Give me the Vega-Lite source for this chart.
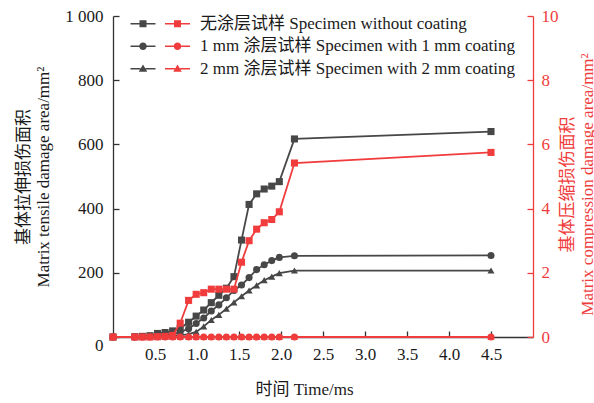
{
  "$schema": "https://vega.github.io/schema/vega-lite/v6.json",
  "width": 420,
  "height": 321,
  "autosize": {"type": "none"},
  "padding": {"left": 113, "top": 16, "right": 61, "bottom": 66},
  "background": "white",
  "config": {
    "font": "Liberation Serif, Noto Sans CJK SC",
    "view": {"stroke": null},
    "axis": {
      "labelFont": "Liberation Serif, Noto Sans CJK SC",
      "titleFont": "Liberation Serif, Noto Sans CJK SC",
      "labelFontSize": 17,
      "titleFontSize": 17,
      "titleFontWeight": "normal",
      "labelColor": "#1a1a1a",
      "titleColor": "#1a1a1a",
      "grid": false,
      "tickSize": -6,
      "tickWidth": 1.3,
      "domainWidth": 1.3,
      "domainColor": "#333333",
      "tickColor": "#333333"
    },
    "legend": {
      "labelFont": "Liberation Serif, Noto Sans CJK SC",
      "labelFontSize": 17,
      "labelColor": "#1a1a1a",
      "labelLimit": 500
    }
  },
  "data": {
    "values": [
      {"t": 0, "s": "A", "ten": 0, "com": 0},
      {"t": 0.26, "s": "A", "ten": 1, "com": 0},
      {"t": 0.35, "s": "A", "ten": 2, "com": 0},
      {"t": 0.44, "s": "A", "ten": 4, "com": 0},
      {"t": 0.53, "s": "A", "ten": 11, "com": 0.01},
      {"t": 0.62, "s": "A", "ten": 14, "com": 0.02},
      {"t": 0.71, "s": "A", "ten": 19, "com": 0.05},
      {"t": 0.80, "s": "A", "ten": 27, "com": 0.43},
      {"t": 0.90, "s": "A", "ten": 46, "com": 1.14},
      {"t": 0.99, "s": "A", "ten": 65, "com": 1.33},
      {"t": 1.08, "s": "A", "ten": 84, "com": 1.38},
      {"t": 1.17, "s": "A", "ten": 107, "com": 1.49},
      {"t": 1.26, "s": "A", "ten": 130, "com": 1.49},
      {"t": 1.35, "s": "A", "ten": 152, "com": 1.49},
      {"t": 1.44, "s": "A", "ten": 188, "com": 1.49},
      {"t": 1.53, "s": "A", "ten": 302, "com": 2.33},
      {"t": 1.62, "s": "A", "ten": 413, "com": 3.0},
      {"t": 1.71, "s": "A", "ten": 446, "com": 3.36},
      {"t": 1.80, "s": "A", "ten": 461, "com": 3.56},
      {"t": 1.89, "s": "A", "ten": 470, "com": 3.66},
      {"t": 1.98, "s": "A", "ten": 484, "com": 3.9},
      {"t": 2.16, "s": "A", "ten": 617, "com": 5.42},
      {"t": 4.5, "s": "A", "ten": 640, "com": 5.75},
      {"t": 0, "s": "B", "ten": 0, "com": 0},
      {"t": 0.26, "s": "B", "ten": 0, "com": 0},
      {"t": 0.35, "s": "B", "ten": 1, "com": 0},
      {"t": 0.44, "s": "B", "ten": 2, "com": 0},
      {"t": 0.53, "s": "B", "ten": 3, "com": 0},
      {"t": 0.62, "s": "B", "ten": 5, "com": 0},
      {"t": 0.71, "s": "B", "ten": 8, "com": 0},
      {"t": 0.80, "s": "B", "ten": 15, "com": 0},
      {"t": 0.90, "s": "B", "ten": 26, "com": 0},
      {"t": 0.99, "s": "B", "ten": 42, "com": 0},
      {"t": 1.08, "s": "B", "ten": 59, "com": 0},
      {"t": 1.17, "s": "B", "ten": 81, "com": 0},
      {"t": 1.26, "s": "B", "ten": 100, "com": 0},
      {"t": 1.35, "s": "B", "ten": 122, "com": 0},
      {"t": 1.44, "s": "B", "ten": 145, "com": 0},
      {"t": 1.53, "s": "B", "ten": 162, "com": 0},
      {"t": 1.62, "s": "B", "ten": 185, "com": 0},
      {"t": 1.71, "s": "B", "ten": 210, "com": 0},
      {"t": 1.80, "s": "B", "ten": 225, "com": 0},
      {"t": 1.89, "s": "B", "ten": 238, "com": 0},
      {"t": 1.98, "s": "B", "ten": 248, "com": 0},
      {"t": 2.16, "s": "B", "ten": 253, "com": 0},
      {"t": 4.5, "s": "B", "ten": 254, "com": 0},
      {"t": 0, "s": "C", "ten": 0, "com": 0},
      {"t": 0.26, "s": "C", "ten": 0, "com": 0},
      {"t": 0.35, "s": "C", "ten": 0, "com": 0},
      {"t": 0.44, "s": "C", "ten": 1, "com": 0},
      {"t": 0.53, "s": "C", "ten": 1, "com": 0},
      {"t": 0.62, "s": "C", "ten": 2, "com": 0},
      {"t": 0.71, "s": "C", "ten": 3, "com": 0},
      {"t": 0.80, "s": "C", "ten": 5, "com": 0},
      {"t": 0.90, "s": "C", "ten": 9, "com": 0},
      {"t": 0.99, "s": "C", "ten": 16, "com": 0},
      {"t": 1.08, "s": "C", "ten": 33, "com": 0},
      {"t": 1.17, "s": "C", "ten": 53, "com": 0},
      {"t": 1.26, "s": "C", "ten": 69, "com": 0},
      {"t": 1.35, "s": "C", "ten": 88, "com": 0},
      {"t": 1.44, "s": "C", "ten": 108, "com": 0},
      {"t": 1.53, "s": "C", "ten": 127, "com": 0},
      {"t": 1.62, "s": "C", "ten": 145, "com": 0},
      {"t": 1.71, "s": "C", "ten": 161, "com": 0},
      {"t": 1.80, "s": "C", "ten": 177, "com": 0},
      {"t": 1.89, "s": "C", "ten": 188, "com": 0},
      {"t": 1.98, "s": "C", "ten": 199, "com": 0},
      {"t": 2.16, "s": "C", "ten": 207, "com": 0},
      {"t": 4.5, "s": "C", "ten": 207, "com": 0}
    ]
  },
  "layer": [
    {
      "layer": [
        {
          "mark": {"type": "line", "color": "#474747", "strokeWidth": 1.8},
          "encoding": {
            "x": {"field": "t", "type": "quantitative", "scale": {"domain": [0, 5], "nice": false},
              "axis": {"values": [0.5, 1, 1.5, 2, 2.5, 3, 3.5, 4, 4.5], "format": ".1f", "labelPadding": 15, "title": "时间 Time/ms", "titleX": 191, "titlePadding": 19}},
            "y": {"field": "ten", "type": "quantitative", "scale": {"domain": [0, 1000], "nice": false}},
            "detail": {"field": "s"}
          }
        },
        {
          "mark": {"type": "point", "filled": true, "opacity": 1, "size": 50, "color": "#474747"},
          "encoding": {
            "x": {"field": "t", "type": "quantitative"},
            "y": {"field": "ten", "type": "quantitative",
              "axis": {"orient": "left", "values": [0, 200, 400, 600, 800, 1000],
                "labelExpr": "datum.value == 1000 ? '1 000' : datum.label",
                "labelBaseline": {"condition": {"test": "datum.value == 0", "value": "top"}, "value": "middle"},
                "labelPadding": 16,
                "title": ["基体拉伸损伤面积", "Matrix tensile damage area/mm²"],
                "titleLineHeight": 20, "titlePadding": 12}},
            "shape": {"field": "s", "type": "nominal",
              "scale": {"domain": ["A", "B", "C"], "range": ["square", "circle", "triangle-up"]},
              "legend": null}
          }
        },
        {
          "mark": {"type": "point", "filled": true, "opacity": 0, "color": "#474747"},
          "encoding": {
            "x": {"field": "t", "type": "quantitative"},
            "y": {"field": "ten", "type": "quantitative"},
            "shape": {"field": "s", "type": "nominal",
              "scale": {"domain": ["A", "B", "C"], "range": [
                "M-1,-0.065H-0.2V0.065H-1ZM0.2,-0.065H1V0.065H0.2ZM-0.28,-0.28H0.28V0.28H-0.28Z",
                "M-1,-0.065H-0.2V0.065H-1ZM0.2,-0.065H1V0.065H0.2ZM-0.3,0A0.3,0.3 0 1,1 0.3,0A0.3,0.3 0 1,1 -0.3,0Z",
                "M-1,-0.065H-0.2V0.065H-1ZM0.2,-0.065H1V0.065H0.2ZM0,-0.34L0.34,0.25L-0.34,0.25Z"]},
              "legend": {
                "orient": "none", "legendX": 17.5, "legendY": -4.8, "title": null, "padding": 0,
                "rowPadding": 1.5, "symbolSize": 625, "symbolOpacity": 1, "symbolFillColor": "#474747", "symbolStrokeWidth": 0,
                "labelOpacity": 0, "labelOffset": 10,
                "labelExpr": "'\u2002'"
              }}
          }
        }
      ],
      "resolve": {"scale": {"shape": "independent"}}
    },
    {
      "layer": [
        {
          "mark": {"type": "line", "color": "#f03c3c", "strokeWidth": 1.8},
          "encoding": {
            "x": {"field": "t", "type": "quantitative"},
            "y": {"field": "com", "type": "quantitative", "scale": {"domain": [0, 10], "nice": false}},
            "detail": {"field": "s"}
          }
        },
        {
          "mark": {"type": "point", "filled": true, "opacity": 1, "size": 50, "color": "#f03c3c"},
          "encoding": {
            "x": {"field": "t", "type": "quantitative"},
            "y": {"field": "com", "type": "quantitative",
              "axis": {"orient": "right", "values": [0, 2, 4, 6, 8, 10], "format": "d",
                "labelPadding": 14, "labelColor": "#f03c3c", "tickColor": "#f03c3c", "domainColor": "#f03c3c",
                "title": ["基体压缩损伤面积", "Matrix compression damage area/mm²"],
                "titleColor": "#f03c3c", "titleAngle": -90, "titleBaseline": "top", "titleAlign": "center",
                "titleX": 26, "titleY": 168,
                "titleLineHeight": 20}},
            "shape": {"field": "s", "type": "nominal",
              "scale": {"domain": ["A", "B", "C"], "range": ["square", "circle", "triangle-up"]},
              "legend": null}
          }
        },
        {
          "mark": {"type": "point", "filled": true, "opacity": 0, "color": "#f03c3c"},
          "encoding": {
            "x": {"field": "t", "type": "quantitative"},
            "y": {"field": "com", "type": "quantitative"},
            "shape": {"field": "s", "type": "nominal",
              "scale": {"domain": ["A", "B", "C"], "range": [
                "M-1,-0.065H-0.2V0.065H-1ZM0.2,-0.065H1V0.065H0.2ZM-0.28,-0.28H0.28V0.28H-0.28Z",
                "M-1,-0.065H-0.2V0.065H-1ZM0.2,-0.065H1V0.065H0.2ZM-0.3,0A0.3,0.3 0 1,1 0.3,0A0.3,0.3 0 1,1 -0.3,0Z",
                "M-1,-0.065H-0.2V0.065H-1ZM0.2,-0.065H1V0.065H0.2ZM0,-0.34L0.34,0.25L-0.34,0.25Z"]},
              "legend": {
                "orient": "none", "legendX": 52, "legendY": -4.8, "title": null, "padding": 0,
                "rowPadding": 1.5, "symbolSize": 625, "symbolOpacity": 1, "symbolFillColor": "#f03c3c", "symbolStrokeWidth": 0,
                "labelOffset": 10,
                "labelExpr": "datum.value == 'A' ? '无涂层试样 Specimen without coating' : datum.value == 'B' ? '1 mm 涂层试样 Specimen with 1 mm coating' : '2 mm 涂层试样 Specimen with 2 mm coating'"
              }}
          }
        }
      ],
      "resolve": {"scale": {"shape": "independent"}}
    }
  ],
  "resolve": {"scale": {"y": "independent", "shape": "independent"}}
}
